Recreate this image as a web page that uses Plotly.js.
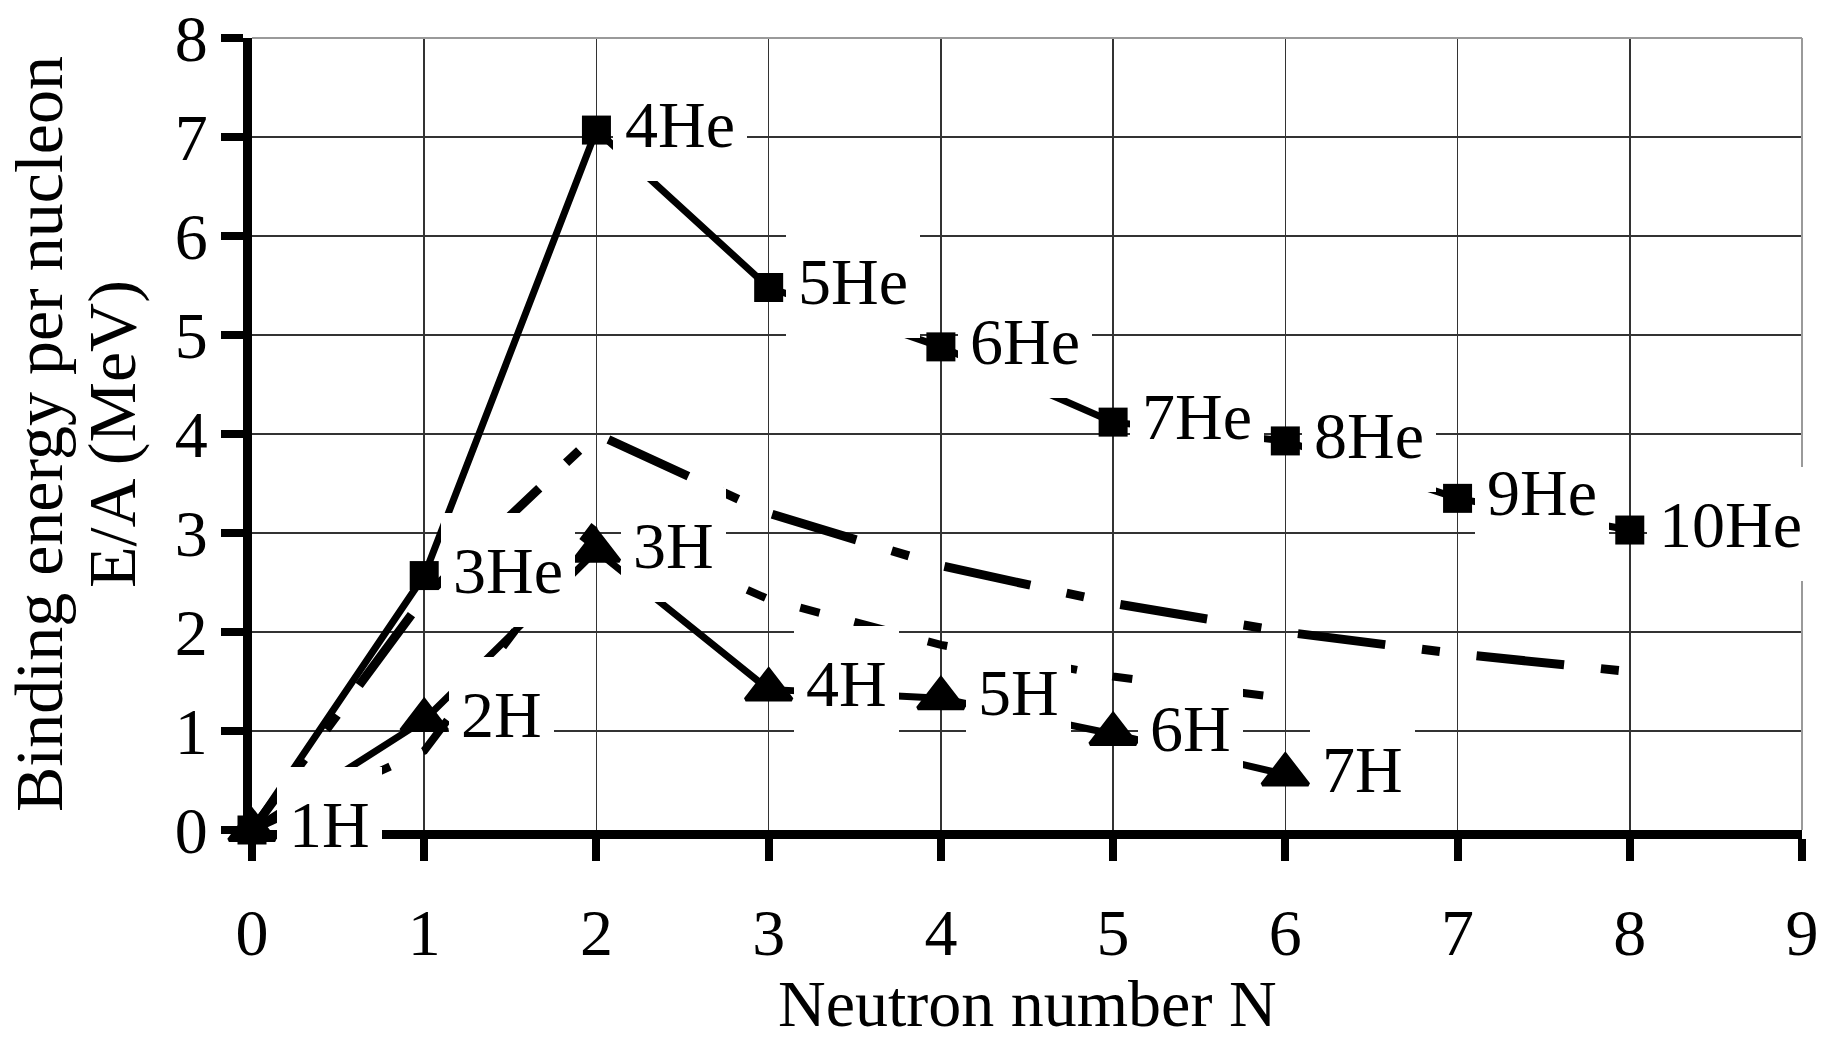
<!DOCTYPE html>
<html>
<head>
<meta charset="utf-8">
<script src="https://cdn.plot.ly/plotly-3.0.1.min.js"></script>
<style>
html, body { margin: 0; padding: 0; background: #ffffff; }
#chart { width: 1824px; height: 1040px; }
</style>
</head>
<body>
<div id="chart"></div>
<script>
// ---- data ----
const heN = [0, 1, 2, 3, 4, 5, 6, 7, 8];
const heE = [0, 2.57, 7.07, 5.48, 4.88, 4.12, 3.93, 3.35, 3.03];
const heLabels = ['', '3He', '4He', '5He', '6He', '7He', '8He', '9He', '10He'];

const hN = [0, 1, 2, 3, 4, 5, 6];
const hE = [0, 1.11, 2.82, 1.42, 1.33, 0.97, 0.56];
const hLabels = ['1H', '2H', '3H', '4H', '5H', '6H', '7H'];

const heModelN = [0, 1, 2, 3, 4, 5, 6, 7, 8];
const heModelE = [0, 2.35, 4.0, 3.2, 2.67, 2.29, 2.0, 1.78, 1.6];

const hModelN = [0, 1, 2, 3, 4, 5, 6];
const hModelE = [0, 0.8, 3.1, 2.33, 1.87, 1.55, 1.33];

const xTickVals = [0, 1, 2, 3, 4, 5, 6, 7, 8, 9];
const yTickVals = [0, 1, 2, 3, 4, 5, 6, 7, 8];

const xTitle = 'Neutron number N';
const yTitleLines = ['Binding energy per nucleon', 'E/A (MeV)'];

// ---- styling ----
const FONT = 'Liberation Serif, Times New Roman, serif';
const FS = 66;
const TFS = 68;

const traces = [
  {
    x: heModelN, y: heModelE, type: 'scatter', mode: 'lines',
    line: { color: '#000', width: 9, dash: '88px,37px,18px,37px' },
    hoverinfo: 'skip', showlegend: false
  },
  {
    x: hModelN, y: hModelE, type: 'scatter', mode: 'lines',
    line: { color: '#000', width: 8, dash: '40px,36px,20px,36px,20px,36px' },
    hoverinfo: 'skip', showlegend: false
  },
  {
    x: heN, y: heE, type: 'scatter', mode: 'lines+markers',
    line: { color: '#000', width: 7 },
    marker: { symbol: 'square', size: 29, color: '#000', line: { width: 0 } },
    cliponaxis: false, showlegend: false
  },
  {
    x: hN, y: hE, type: 'scatter', mode: 'lines+markers',
    line: { color: '#000', width: 7 },
    marker: { symbol: 'triangle-up', size: 40, color: '#000', line: { width: 4, color: '#000' } },
    cliponaxis: false, showlegend: false
  }
];

const annotations = [];
function addLabels(xs, ys, labels, shift) {
  for (let i = 0; i < xs.length; i++) {
    if (!labels[i]) continue;
    annotations.push({
      x: xs[i], y: ys[i], xref: 'x', yref: 'y',
      text: labels[i], showarrow: false,
      xanchor: 'left', yanchor: 'middle',
      xshift: shift, yshift: 6,
      height: 90,
      bgcolor: '#ffffff', borderpad: 12, borderwidth: 0,
      font: { family: FONT, size: FS, color: '#000' }
    });
  }
}
addLabels(heN, heE, heLabels, 17);
addLabels(hN, hE, hLabels, 25);

// y axis title, two lines with the reference's tight line spacing
const yTitleShifts = [-213, -140];
yTitleLines.forEach((t, i) => {
  annotations.push({
    x: 0, y: 0.5, xref: 'paper', yref: 'paper',
    text: t, showarrow: false, textangle: -90,
    xanchor: 'center', yanchor: 'middle',
    xshift: yTitleShifts[i], yshift: 0,
    font: { family: FONT, size: TFS, color: '#000' }
  });
});

// x axis title
annotations.push({
  x: 0.5, y: 0, xref: 'paper', yref: 'paper',
  text: xTitle, showarrow: false,
  xanchor: 'center', yanchor: 'middle',
  xshift: 0, yshift: -173,
  font: { family: FONT, size: 66, color: '#000' }
});

const axisCommon = {
  showline: true, linecolor: '#000', linewidth: 9,
  ticks: 'outside', ticklen: 22, tickwidth: 8, tickcolor: '#000',
  showgrid: true, gridcolor: '#333', gridwidth: 1.5,
  zeroline: false, automargin: false,
  tickfont: { family: FONT, size: FS, color: '#000' }
};

const layout = {
  width: 1824, height: 1040,
  margin: { l: 252, r: 22, t: 38, b: 210, pad: 0 },
  paper_bgcolor: '#fff', plot_bgcolor: '#fff',
  showlegend: false,
  xaxis: Object.assign({}, axisCommon, {
    range: [0, 9], tickmode: 'array', tickvals: xTickVals,
    ticklabelstandoff: 15
  }),
  yaxis: Object.assign({}, axisCommon, {
    range: [0, 8], tickmode: 'array', tickvals: yTickVals,
    ticklabelstandoff: 0
  }),
  shapes: [
    { type: 'line', xref: 'paper', yref: 'paper', x0: 0, x1: 1, y0: 1, y1: 1, line: { color: '#9a9a9a', width: 2 } },
    { type: 'line', xref: 'paper', yref: 'paper', x0: 1, x1: 1, y0: 0, y1: 1, line: { color: '#9a9a9a', width: 2 } }
  ],
  annotations: annotations
};

Plotly.newPlot('chart', traces, layout, { displayModeBar: false, staticPlot: true });
</script>
</body>
</html>
